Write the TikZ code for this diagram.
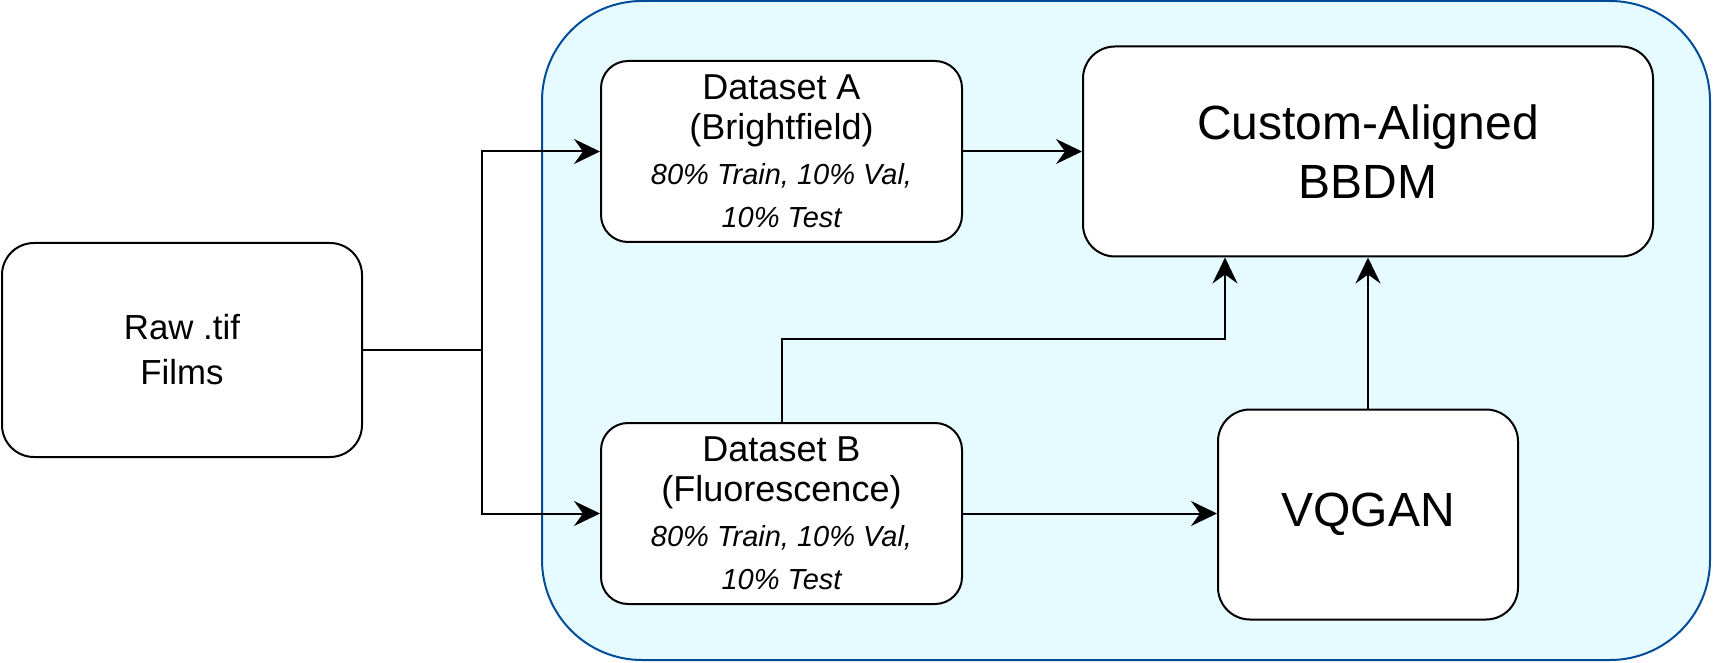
\documentclass[tikz,border=0pt]{standalone}
\usepackage{fontspec}
\setmainfont{Liberation Sans}
\usetikzlibrary{positioning, arrows.meta, calc}

\definecolor{panelfill}{RGB}{230,251,255}
\definecolor{panelline}{RGB}{0,76,153}

\begin{document}
\begin{tikzpicture}[
    >={Stealth[length=13pt, width=12.5pt, inset=4.5pt]},
    line width=1pt,
    box/.style={
        draw=black,
        fill=white,
        align=center,
        inner sep=0pt
    },
    dataset/.style={
        box,
        rounded corners=13.5pt,
        minimum width=180.5pt,
        minimum height=90.5pt,
        font=\fontsize{18}{20}\selectfont
    },
    model/.style={
        box,
        rounded corners=16pt,
        minimum height=105pt,
        font=\fontsize{24}{29.6}\selectfont
    },
    link/.style={draw, ->}
]
    \useasboundingbox (0,0) rectangle (856.5pt,-331.5pt);

    % Training panel
    \draw[panelline, fill=panelfill, rounded corners=50pt]
        (271pt,-0.5pt) rectangle (855pt,-330pt);

    % Nodes
    \node[box, rounded corners=16pt, minimum width=180pt, minimum height=107pt,
          font=\fontsize{17.4}{22.5}\selectfont]
        (Raw) at (91pt,-175pt) {Raw .tif\\Films};

    \node[dataset] (A) at (390.75pt,-75.75pt)
        {Dataset A\\(Brightfield)\\[2.5pt]{\fontsize{14.5}{16}\selectfont\itshape 80\% Train, 10\% Val,}\\[1.3pt]{\fontsize{14.5}{16}\selectfont\itshape 10\% Test}};
    \node[dataset, below=89.5pt of A] (B)
        {Dataset B\\(Fluorescence)\\[2.5pt]{\fontsize{14.5}{16}\selectfont\itshape 80\% Train, 10\% Val,}\\[1.3pt]{\fontsize{14.5}{16}\selectfont\itshape 10\% Test}};

    \node[model, minimum width=285pt, right=59.5pt of A] (BBDM) {Custom-Aligned\\BBDM};
    \node[model, minimum width=150pt, below=75.5pt of BBDM] (VQ) {VQGAN};

    % Connections
    \coordinate (fork) at ($(Raw.east)+(59.5pt,0)$);
    \coordinate (bbdmin) at ($(BBDM.south west)!0.25!(BBDM.south east)$);

    \draw (Raw.east) -- (fork);
    \draw[->] (fork) |- (A.west);
    \draw[->] (fork) |- (B.west);

    \draw[->] (A.east) -- (A.east -| BBDM.west);
    \draw[->] (B.east) -- (B.east -| VQ.west);
    \draw[->] (B.north) -- ++(0,41.5pt) -| (bbdmin);
    \draw[->] (VQ.north) -- (BBDM.south);

\end{tikzpicture}
\end{document}
